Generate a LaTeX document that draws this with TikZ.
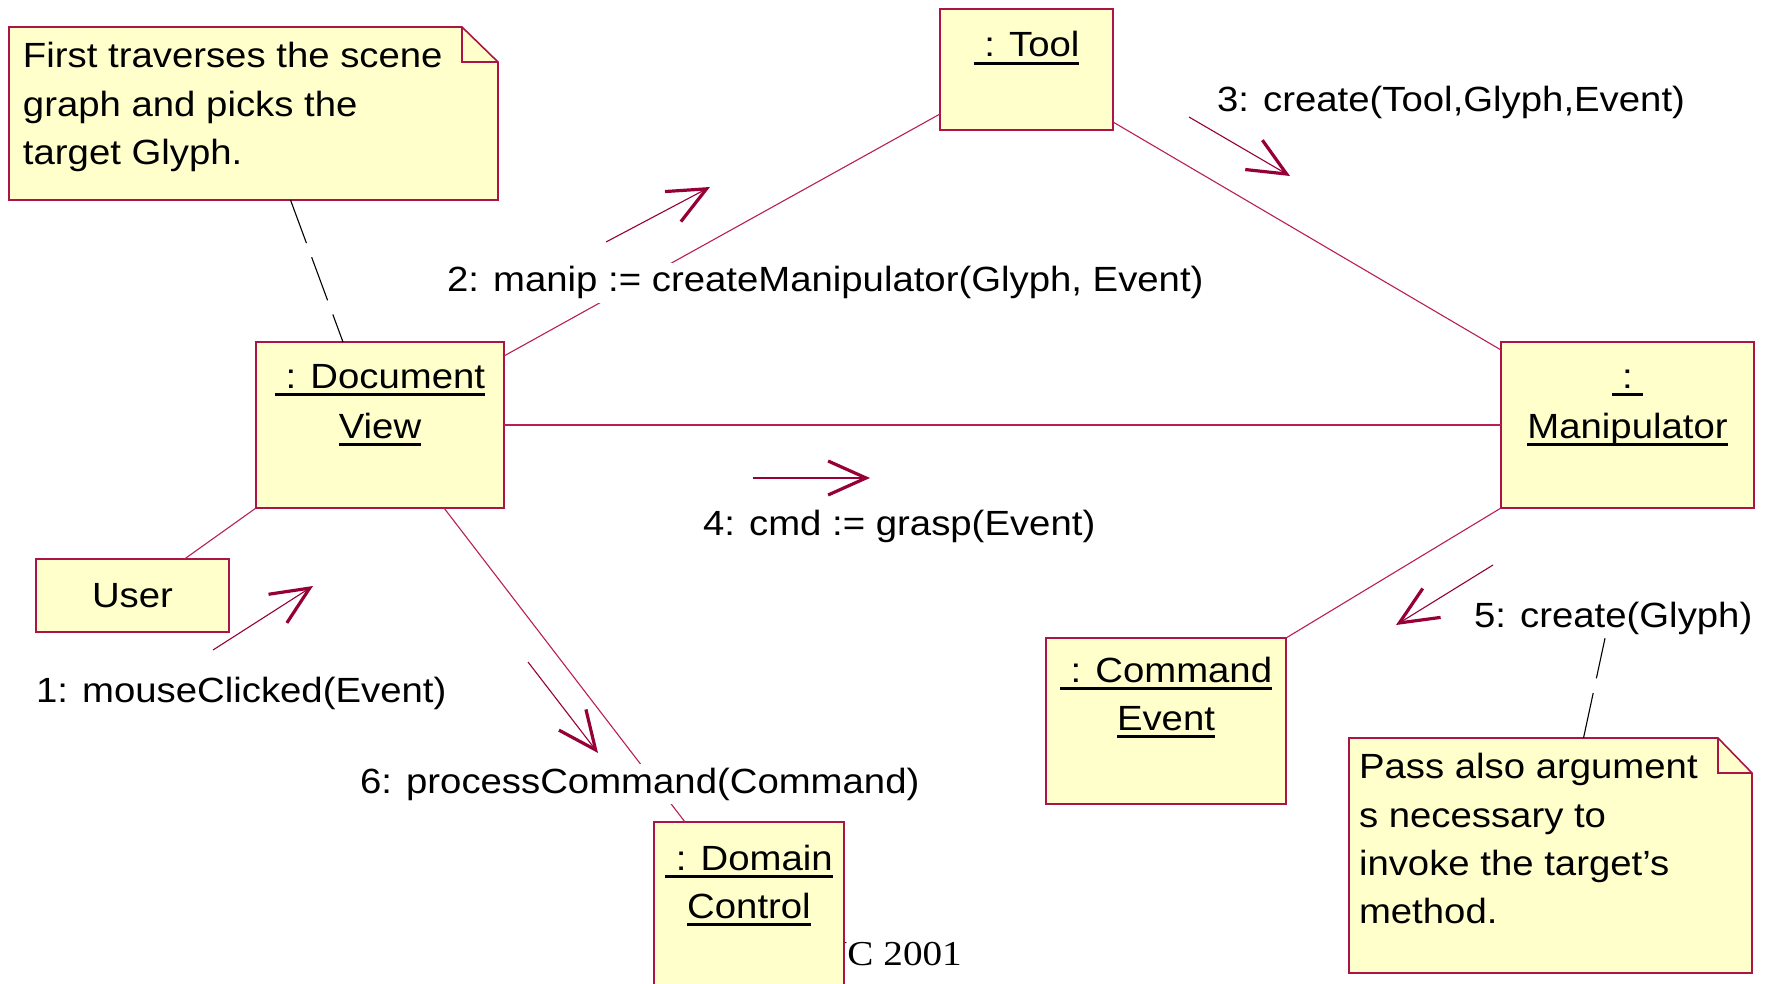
\documentclass[tikz,border=0pt]{standalone}
\usepackage{fontspec}
\setmainfont{Liberation Sans}[FakeStretch=1.095]
\newfontfamily\serifface{Liberation Serif}[FakeStretch=1.12]
\usetikzlibrary{arrows.meta,calc}

\definecolor{boxfill}{RGB}{255,255,204}
\definecolor{boxline}{RGB}{170,20,70}
\definecolor{linkline}{RGB}{185,30,85}
\definecolor{msgcol}{RGB}{150,0,55}

% underlined object name, rule drawn a few points below the baseline
\newcommand\ulbox[1]{\setbox0\hbox{#1}\rlap{\rule[-8pt]{\wd0}{3pt}}\box0}

\tikzset{
  txt/.style={font=\fontsize{35}{48.5}\selectfont, inner sep=0pt, outer sep=0pt},
  obj/.style={draw=boxline, fill=boxfill, line width=1.6pt, inner sep=0pt, outer sep=0pt, anchor=north west},
  notearea/.style={inner sep=0pt, outer sep=0pt, anchor=north west},
  notebody/.style={draw=boxline, fill=boxfill, line width=1.6pt, line join=miter},
  notefold/.style={draw=boxline, line width=1.6pt},
  link/.style={draw=linkline, line width=1.1pt},
  anchorline/.style={draw=black, line width=1.1pt, dash pattern=on 46pt off 15pt},
  msg/.style={draw=msgcol, line width=1.1pt, -{Straight Barb[length=38pt,width=34pt,line width=3.2pt]}},
  lbl/.style={txt, anchor=base west, inner sep=4pt, fill=white},
}

\begin{document}
\begin{tikzpicture}[x=1pt,y=-1pt]
\useasboundingbox (0,0) rectangle (1767,984);
\clip (0,0) rectangle (1767,984);

% footer text, partly under the Domain Control box
\node[font=\serifface\fontsize{35}{40}\selectfont, anchor=base east, inner sep=0pt] (year) at (962,965) {UC 2001};

% objects
\node[obj, minimum width=173pt, minimum height=121pt] (tool) at (940,9) {};
\node[obj, minimum width=248pt, minimum height=166pt] (doc) at (256,342) {};
\node[obj, minimum width=253pt, minimum height=166pt] (manip) at (1501,342) {};
\node[obj, txt, minimum width=193pt, minimum height=73pt] (user) at (36,559) {User};
\node[obj, minimum width=240pt, minimum height=166pt] (cmd) at (1046,638) {};
\node[obj, minimum width=190pt, minimum height=200pt] (domain) at (654,822) {};

\node[txt, anchor=base] (toolA) at (1026.5,57) {\ulbox{\ : Tool}};
\node[txt, anchor=base] (docA) at (380,388) {\ulbox{\ : Document}};
\node[txt, anchor=base] (docB) at (380,438) {\ulbox{View}};
\node[txt, anchor=base] (manipA) at (1627.5,388) {\ulbox{\ :\ }};
\node[txt, anchor=base] (manipB) at (1627.5,438) {\ulbox{Manipulator}};
\node[txt, anchor=base] (cmdA) at (1166,682) {\ulbox{\ : Command}};
\node[txt, anchor=base] (cmdB) at (1166,730) {\ulbox{Event}};
\node[txt, anchor=base] (domainA) at (749,870) {\ulbox{\ : Domain}};
\node[txt, anchor=base] (domainB) at (749,918) {\ulbox{Control}};

% notes with folded corner
\node[notearea, minimum width=489pt, minimum height=173pt] (note1) at (9,27) {};
\draw[notebody] (note1.north west) -- ([xshift=-36pt]note1.north east)
  -- ([yshift=-35pt]note1.north east) -- (note1.south east) -- (note1.south west) -- cycle;
\draw[notefold] ([xshift=-36pt]note1.north east) |- ([yshift=-35pt]note1.north east);
\node[txt, anchor=base west] (note1a) at (23,68) {First traverses the scene};
\node[txt, anchor=base west] (note1b) at (23,117) {graph and picks the};
\node[txt, anchor=base west] (note1c) at (23,165) {target Glyph.};

\node[notearea, minimum width=403pt, minimum height=235pt] (note2) at (1349,738) {};
\draw[notebody] (note2.north west) -- ([xshift=-34pt]note2.north east)
  -- ([yshift=-35pt]note2.north east) -- (note2.south east) -- (note2.south west) -- cycle;
\draw[notefold] ([xshift=-34pt]note2.north east) |- ([yshift=-35pt]note2.north east);
\node[txt, anchor=base west] (note2a) at (1359,778) {Pass also argument};
\node[txt, anchor=base west] (note2b) at (1359,827) {s necessary to};
\node[txt, anchor=base west] (note2c) at (1359,875) {invoke the target's};
\node[txt, anchor=base west] (note2d) at (1359,923) {method.};

% links between objects
\draw[link] ([yshift=-14pt]doc.north east) -- ([yshift=16pt]tool.south west);
\draw[link] ([yshift=8pt]tool.south east) -- ([yshift=-8pt]manip.north west);
\draw[link] (doc.east) -- (manip.west);
\draw[link] ([xshift=52pt]user.north) -- (doc.south west);
\draw[link] ([xshift=64pt]doc.south) -- ([xshift=-64pt]domain.north);
\draw[link] (manip.south west) -- (cmd.north east);

% message labels
\node[lbl] (m1) at (32,702) {1: mouseClicked(Event)};
\node[lbl] (m2) at (443,292) {2: manip := createManipulator(Glyph, Event)};
\node[lbl] (m3) at (1213,112) {3: create(Tool,Glyph,Event)};
\node[lbl] (m4) at (699,535) {4: cmd := grasp(Event)};
\node[lbl] (m5) at (1470,627) {5: create(Glyph)};
\node[lbl] (m6) at (356,793) {6: processCommand(Command)};

% note anchors
\draw[anchorline] ([xshift=37pt]note1.south) -- ([xshift=-37pt]doc.north);
\draw[anchorline] ([xshift=33pt]note2.north) -- ([xshift=135pt]m5.south west);

% message arrows
\coordinate (a1s) at (213,650); \coordinate (a1e) at (313,586);
\coordinate (a2s) at (606,242); \coordinate (a2e) at (710,187);
\coordinate (a3s) at (1189,117); \coordinate (a3e) at (1290,176);
\coordinate (a4s) at (753,478); \coordinate (a4e) at (870,478);
\coordinate (a5s) at (1493,565); \coordinate (a5e) at (1396,625);
\coordinate (a6s) at (528,662); \coordinate (a6e) at (598,753);
\draw[msg] (a1s) -- (a1e);
\draw[msg] (a2s) -- (a2e);
\draw[msg] (a3s) -- (a3e);
\draw[msg] (a4s) -- (a4e);
\draw[msg] (a5s) -- (a5e);
\draw[msg] (a6s) -- (a6e);
\end{tikzpicture}
\end{document}
